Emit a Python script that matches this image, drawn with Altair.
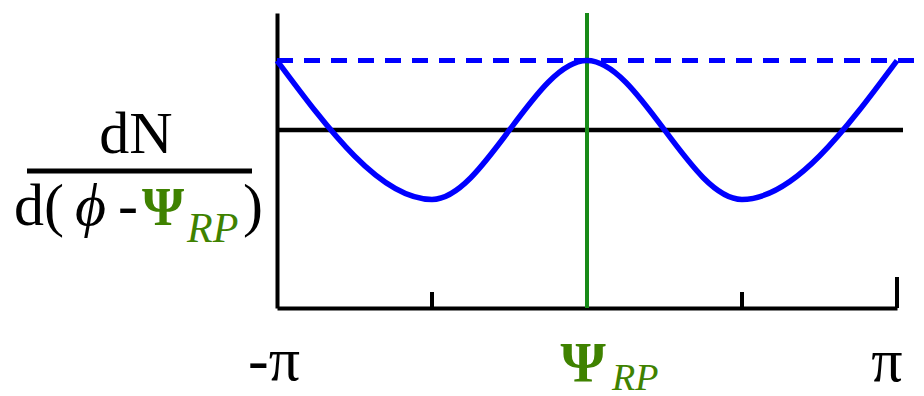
import altair as alt
import pandas as pd

# Azimuthal distribution relative to the reaction plane (phase in units of pi)
phase = [-1.0, -0.5, 0.0, 0.5, 1.0]
dn_dphi = [1.39, 0.61, 1.39, 0.61, 1.39]
mean_level = [1.0]
peak_level = [1.39]
reaction_plane = [0.0]
short_tick_phase = [-0.5, 0.5]
end_tick_phase = [1.0]
y_top = 1.657

# Tick label texts
tick_left = "-π"
tick_right = "π"
psi = "Ψ"
rp = "RP"

W, H = 620, 295
BLUE = "#0000ff"
GREEN_LINE = "#178a17"
GREEN_TEXT = "#3f8200"
SERIF = "Liberation Serif"

x_scale = alt.Scale(domain=[-1, 1], nice=False, zero=False)
y_scale = alt.Scale(domain=[0, y_top], nice=False, zero=False)


def one(text):
    return alt.Chart(pd.DataFrame({"t": [text]}))


curve = alt.Chart(pd.DataFrame({"phase": phase, "dn": dn_dphi})).mark_line(
    color=BLUE, strokeWidth=5.5, interpolate="monotone"
).encode(
    x=alt.X("phase:Q", scale=x_scale, title=None),
    y=alt.Y("dn:Q", scale=y_scale, title=None),
)

mean_line = alt.Chart(pd.DataFrame({"lvl": mean_level})).mark_rule(
    color="black", strokeWidth=4.5
).encode(
    x=alt.value(0), x2=alt.value(626),
    y=alt.Y("lvl:Q", scale=y_scale, title=None),
)

peak_line = alt.Chart(pd.DataFrame({"lvl": peak_level})).mark_rule(
    color=BLUE, strokeWidth=5, strokeDash=[16, 11]
).encode(
    x=alt.value(0), x2=alt.value(647),
    y=alt.Y("lvl:Q", scale=y_scale, title=None),
)

plane_line = alt.Chart(pd.DataFrame({"p": reaction_plane})).mark_rule(
    color=GREEN_LINE, strokeWidth=4
).encode(
    x=alt.X("p:Q", scale=x_scale, title=None),
    y=alt.value(0), y2=alt.value(H),
)

short_ticks = alt.Chart(pd.DataFrame({"p": short_tick_phase})).mark_rule(
    color="black", strokeWidth=4
).encode(
    x=alt.X("p:Q", scale=x_scale, title=None),
    y=alt.value(H), y2=alt.value(H - 16),
)

end_tick = alt.Chart(pd.DataFrame({"p": end_tick_phase})).mark_rule(
    color="black", strokeWidth=4
).encode(
    x=alt.X("p:Q", scale=x_scale, title=None),
    y=alt.value(H), y2=alt.value(H - 31),
)

# x tick labels
lab_left = one(tick_left).mark_text(
    font=SERIF, fontSize=62, align="center", baseline="alphabetic", dx=-3, color="black"
).encode(x=alt.datum(-1), y=alt.value(367), text="t:N")

lab_right = one(tick_right).mark_text(
    font=SERIF, fontSize=62, align="center", baseline="alphabetic", dx=-10, color="black"
).encode(x=alt.datum(1), y=alt.value(368), text="t:N")

lab_psi = one(psi).mark_text(
    font=SERIF, fontSize=58, fontWeight="bold", align="center", baseline="alphabetic",
    dx=-4, color=GREEN_TEXT
).encode(x=alt.datum(0), y=alt.value(369), text="t:N")

lab_rp = one(rp).mark_text(
    font=SERIF, fontSize=38, fontStyle="italic", align="left", baseline="alphabetic",
    dx=25, color=GREEN_TEXT
).encode(x=alt.datum(0), y=alt.value(377), text="t:N")

# y axis title: dN / d(phi - Psi_RP)
num = one("dN").mark_text(
    font=SERIF, fontSize=60, align="center", baseline="alphabetic", color="black"
).encode(x=alt.value(-141), y=alt.value(140), text="t:N")

frac_bar = one("bar").mark_rule(color="black", strokeWidth=5).encode(
    x=alt.value(-250), x2=alt.value(-25), y=alt.value(158)
)

den_d = one("d(").mark_text(
    font=SERIF, fontSize=60, align="left", baseline="alphabetic", color="black"
).encode(x=alt.value(-263), y=alt.value(212), text="t:N")

den_phi = one("ϕ").mark_text(
    font=SERIF, fontSize=60, fontStyle="italic", align="left", baseline="alphabetic",
    color="black"
).encode(x=alt.value(-202), y=alt.value(212), text="t:N")

den_minus = one("-").mark_text(
    font=SERIF, fontSize=60, align="left", baseline="alphabetic", color="black"
).encode(x=alt.value(-159), y=alt.value(212), text="t:N")

den_psi = one(psi).mark_text(
    font=SERIF, fontSize=54, fontWeight="bold", align="left", baseline="alphabetic",
    color=GREEN_TEXT
).encode(x=alt.value(-135), y=alt.value(212), text="t:N")

den_rp = one(rp).mark_text(
    font=SERIF, fontSize=42, fontStyle="italic", align="left", baseline="alphabetic",
    color=GREEN_TEXT
).encode(x=alt.value(-90), y=alt.value(229), text="t:N")

den_close = one(")").mark_text(
    font=SERIF, fontSize=60, align="left", baseline="alphabetic", color="black"
).encode(x=alt.value(-34), y=alt.value(212), text="t:N")

chart = alt.layer(
    mean_line, plane_line, short_ticks, end_tick, peak_line, curve,
    lab_left, lab_right, lab_psi, lab_rp,
    num, frac_bar, den_d, den_phi, den_minus, den_psi, den_rp, den_close,
).properties(
    width=W, height=H,
    background="white",
    autosize=alt.AutoSizeParams(type="none"),
    padding={"left": 277, "top": 13, "right": 27, "bottom": 88},
).configure_axis(
    labels=False, ticks=False, grid=False, domainColor="black", domainWidth=4,
    titleOpacity=0, zindex=1,
).configure_view(stroke=None)

chart.save("out.html", embed_options={"renderer": "svg", "actions": False})
